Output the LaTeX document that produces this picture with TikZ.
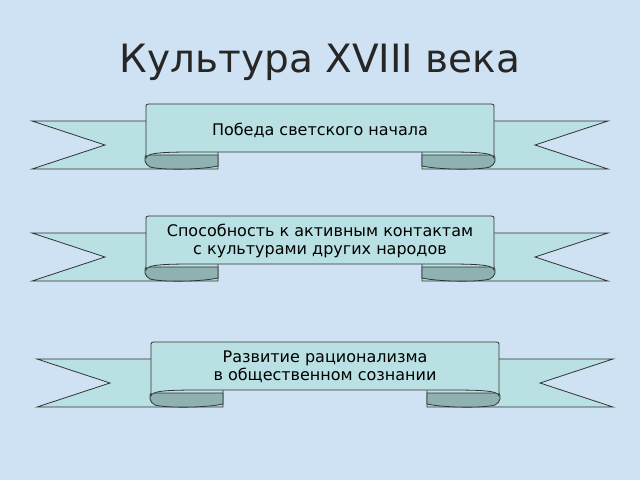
\documentclass[tikz,border=0pt]{standalone}
\usepackage{fontspec}
\setmainfont{DejaVu Sans}
\usetikzlibrary{positioning, calc}
\definecolor{bgBlue}{HTML}{CFE2F3}
\definecolor{ribbonLight}{HTML}{B9E1E3}
\definecolor{ribbonDark}{HTML}{8FB1B1}
\newcommand{\DrawRibbon}[2]{
    \begin{scope}[shift={(#1,#2)}]
        % tails
        \draw[ribbonEdge, fill=ribbonLight] (218,121) -- (32,121) -- (105,145) -- (32,169) -- (218,169) -- cycle;
        \draw[ribbonEdge, fill=ribbonLight] (422,121) -- (608,121) -- (535,145) -- (608,169) -- (422,169) -- cycle;
        % folds
        \draw[ribbonEdge, fill=ribbonDark] (146,155) -- (218,155) -- (218,166) .. controls (200,170) and (160,170) .. (150,167) .. controls (144,164) and (144,158) .. (146,155);
        \draw[ribbonEdge, fill=ribbonDark] (494,155) -- (422,155) -- (422,166) .. controls (440,170) and (480,170) .. (490,167) .. controls (496,164) and (496,158) .. (494,155);
        % body
        \draw[ribbonEdge, fill=ribbonLight] (146,158) -- (146,108) .. controls (146,104) .. (152,104) -- (488,104) .. controls (494,104) .. (494,108) -- (494,158) .. controls (494,152) and (470,152) .. (440,152) -- (200,152) .. controls (170,152) and (146,152) .. (146,158) -- cycle;
    \end{scope}
}
\tikzset{
    ribbonEdge/.style={draw=black!80, line width=0.8pt},
    ribbonText/.style={font=\fontsize{16}{18}\selectfont, align=center, text=black},
    titleText/.style={font=\fontsize{39}{44}\selectfont, text=black!85}
}
\begin{document}
\begin{tikzpicture}[x=1pt, y=-1pt]
    \fill[bgBlue] (0,0) rectangle (640,480);
    \useasboundingbox (0,0) rectangle (640,480);
    \node[titleText] (title) at (320,62) {Культура XVIII века};

    % Ribbon 1
    \DrawRibbon{0}{0}
    \node[ribbonText] (secular) at (320,130) {Победа светского начала};

    % Ribbon 2
    \DrawRibbon{0}{112}
    \node[ribbonText] (contacts) at (320,241) {Способность к активным контактам\\с культурами других народов};

    % Ribbon 3
    \DrawRibbon{5}{238}
    \node[ribbonText] (rational) at (325,367) {Развитие рационализма\\в общественном сознании};
\end{tikzpicture}
\end{document}
